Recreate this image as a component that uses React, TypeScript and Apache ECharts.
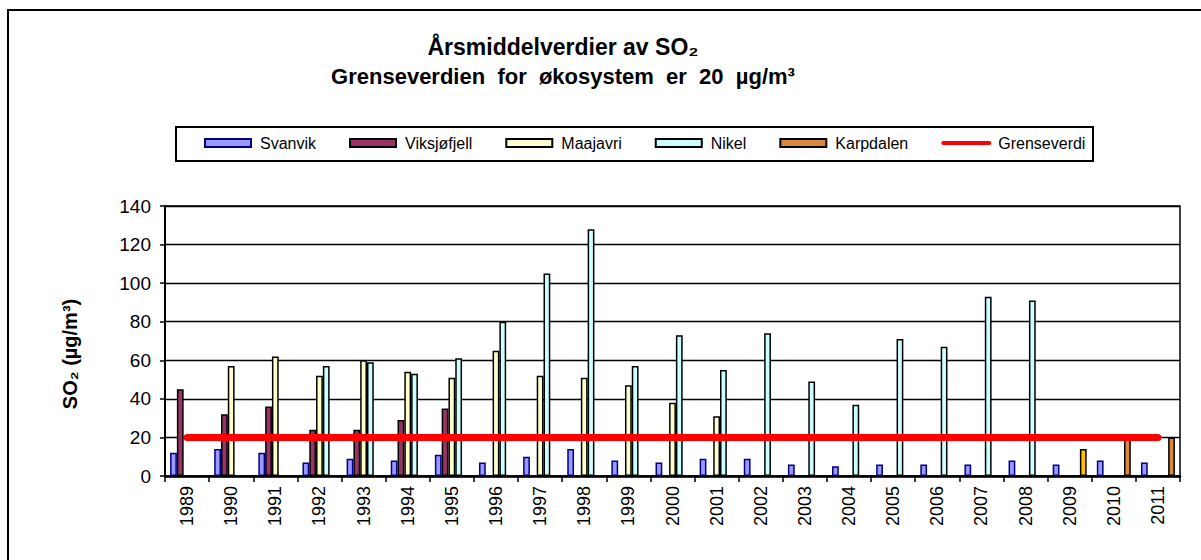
import React, { useEffect, useRef } from 'react';
import * as echarts from 'echarts';

const years = ['1989', '1990', '1991', '1992', '1993', '1994', '1995', '1996', '1997', '1998', '1999', '2000', '2001', '2002', '2003', '2004', '2005', '2006', '2007', '2008', '2009', '2010', '2011'];
const svanvik = [12, 14, 12, 7, 9, 8, 11, 7, 10, 14, 8, 7, 9, 9, 6, 5, 6, 6, 6, 8, 6, 8, 7];
const viksjofjell = [45, 32, 36, 24, 24, 29, 35, null, null, null, null, null, null, null, null, null, null, null, null, null, null, null, null];
const maajavri = [null, 57, 62, 52, 60, 54, 51, 65, 52, 51, 47, 38, 31, null, null, null, null, null, null, null, null, null, null];
const nikel = [null, null, null, 57, 59, 53, 61, 80, 105, 128, 57, 73, 55, 74, 49, 37, 71, 67, 93, 91, null, null, null];
const karpdalen = [null, null, null, null, null, null, null, null, null, null, null, null, null, null, null, null, null, null, null, null, 14, 20, 20];
const grenseverdi = [20, 20, 20, 20, 20, 20, 20, 20, 20, 20, 20, 20, 20, 20, 20, 20, 20, 20, 20, 20, 20, 20, 20];
const yTicks = { min: 0, max: 140, interval: 20 };
const karpdalenSpecialYear = '2009';

const FONT = 'Arial, "Liberation Sans", sans-serif';

export default function App() {
  const ref = useRef<HTMLDivElement>(null);
  useEffect(() => {
    if (!ref.current) return;
    const chart = echarts.init(ref.current, undefined, { renderer: 'svg' });
    const barBase = {
      type: 'bar',
      barGap: '0%',
      barCategoryGap: '23%',
      z: 2,
    };
    chart.setOption({
      animation: false,
      backgroundColor: '#fff',
      textStyle: { fontFamily: FONT, color: '#000' },
      grid: {
        left: 165, right: 21, top: 206, bottom: 84,
        show: true, borderColor: '#000', borderWidth: 1.5,
      },
      legend: {
        left: 204, top: 135, padding: 0,
        itemWidth: 46, itemHeight: 8, itemGap: 33,
        textStyle: { fontFamily: FONT, fontSize: 16, color: '#000', padding: [0, 0, 0, 4] },
        data: [
          { name: 'Svanvik', icon: 'rect' },
          { name: 'Viksjøfjell', icon: 'rect' },
          { name: 'Maajavri', icon: 'rect' },
          { name: 'Nikel', icon: 'rect' },
          { name: 'Karpdalen', icon: 'rect' },
          { name: 'Grenseverdi', lineStyle: { width: 4 }, itemStyle: { opacity: 0 } },
        ],
      },
      graphic: [
        {
          type: 'rect', z: -10, silent: true,
          shape: { x: 8, y: 10, width: 1400, height: 700 },
          style: { fill: 'none', stroke: '#000', lineWidth: 2 },
        },
        {
          type: 'rect', z: -5, silent: true,
          shape: { x: 176, y: 127, width: 917, height: 34 },
          style: { fill: '#fff', stroke: '#000', lineWidth: 2 },
        },
        {
          type: 'text', x: 563, y: 47,
          style: {
            text: 'Årsmiddelverdier av SO₂', font: `bold 23px ${FONT}`, fill: '#000',
            align: 'center', verticalAlign: 'middle',
          },
        },
        {
          type: 'text', x: 563, y: 76,
          style: {
            text: 'Grenseverdien  for  økosystem  er  20  µg/m³', font: `bold 22px ${FONT}`, fill: '#000',
            align: 'center', verticalAlign: 'middle',
          },
        },
        {
          type: 'text', x: 70, y: 354, rotation: Math.PI / 2,
          style: {
            text: 'SO₂ (µg/m³)', font: `bold 20px ${FONT}`, fill: '#000',
            align: 'center', verticalAlign: 'middle',
          },
        },
      ],
      xAxis: {
        type: 'category',
        data: years,
        axisLine: { lineStyle: { color: '#000', width: 2.5 } },
        axisTick: { show: true, length: 6, lineStyle: { color: '#000', width: 1.5 } },
        axisLabel: { rotate: 90, interval: 0, margin: 10, fontSize: 18, color: '#000', fontFamily: FONT },
        splitLine: { show: false },
      },
      yAxis: {
        type: 'value',
        min: yTicks.min, max: yTicks.max, interval: yTicks.interval,
        axisLine: { show: true, lineStyle: { color: '#000', width: 2 } },
        axisTick: { show: true, length: 5, lineStyle: { color: '#000', width: 1.5 } },
        axisLabel: { fontSize: 19, color: '#000', margin: 14, fontFamily: FONT },
        splitLine: { show: true, lineStyle: { color: '#000', width: 1.3 } },
      },
      series: [
        {
          ...barBase, name: 'Svanvik', data: svanvik,
          itemStyle: { color: '#9999FF', borderColor: '#000080', borderWidth: 1.5 },
        },
        {
          ...barBase, name: 'Viksjøfjell', data: viksjofjell,
          itemStyle: { color: '#993366', borderColor: '#000', borderWidth: 1.5 },
        },
        {
          ...barBase, name: 'Maajavri', data: maajavri,
          itemStyle: { color: '#FFFFCC', borderColor: '#000', borderWidth: 1.5 },
        },
        {
          ...barBase, name: 'Nikel', data: nikel,
          itemStyle: { color: '#CCFFFF', borderColor: '#000', borderWidth: 1.5 },
        },
        {
          ...barBase, name: 'Karpdalen',
          data: karpdalen.map((v, i) =>
            years[i] === karpdalenSpecialYear && v != null
              ? { value: v, itemStyle: { color: '#FFC000' } }
              : v
          ),
          itemStyle: { color: '#D8893F', borderColor: '#000', borderWidth: 1.5 },
        },
        {
          type: 'line', name: 'Grenseverdi', data: grenseverdi,
          symbol: 'none', z: 5,
          lineStyle: { color: '#FF0000', width: 7, cap: 'round', join: 'round' },
          itemStyle: { color: '#FF0000' },
        },
      ],
    });
    return () => chart.dispose();
  }, []);
  return (
    <div
      ref={ref}
      style={{ position: 'fixed', left: 0, top: 0, width: 1201, height: 560, background: '#fff' }}
    />
  );
}
